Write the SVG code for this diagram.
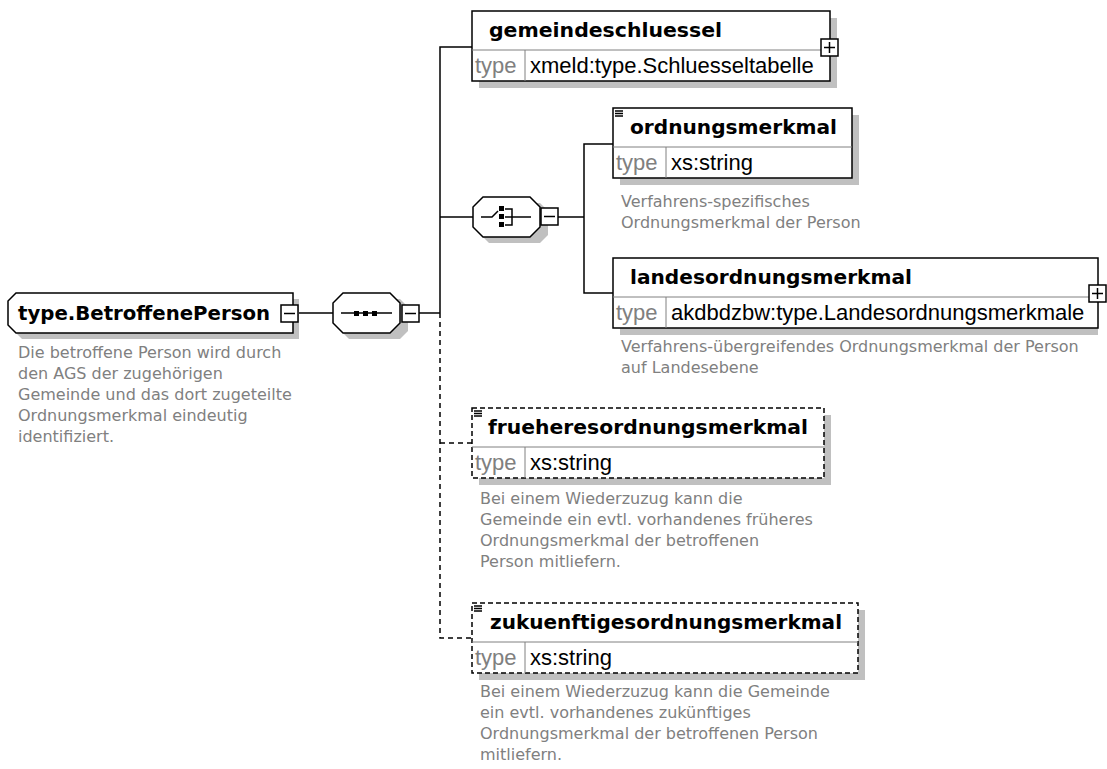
<svg xmlns="http://www.w3.org/2000/svg" width="1107" height="769" viewBox="0 0 1107 769">
<defs>
<style>
.bg{fill:#fff}
.shadow{fill:#c0c0c0}
.box{fill:#fff;stroke:#000;stroke-width:1.5}
.opt{stroke-dasharray:5,3}
.sep{stroke:#808080;stroke-width:1;fill:none}
.conn{stroke:#000;stroke-width:1.5;fill:none}
.dash{stroke-dasharray:5,4}
.title{font-family:"DejaVu Sans",Verdana,sans-serif;font-weight:bold;font-size:20px;fill:#000}
.tlabel{font-family:"Liberation Sans",Arial,sans-serif;font-size:22px;fill:#808080}
.tval{font-family:"Liberation Sans",Arial,sans-serif;font-size:22px;fill:#000}
.desc{font-family:"DejaVu Sans",Verdana,sans-serif;font-size:16px;fill:#808080}
.btn{fill:#fff;stroke:#000;stroke-width:1.5}
.ico{stroke:#000;stroke-width:1.5;fill:none}
</style>
</defs>
<rect class="bg" x="0" y="0" width="1107" height="769"/>

<g id="connectors">
  <line class="conn" x1="298" y1="313" x2="333" y2="313"/>
  <line class="conn" x1="419" y1="313" x2="440" y2="313"/>
  <polyline class="conn" points="472,47 440,47 440,313"/>
  <line class="conn" x1="440" y1="217" x2="473" y2="217"/>
  <polyline class="conn dash" points="440,313 440,638 472,638"/>
  <line class="conn dash" x1="440" y1="443" x2="472" y2="443"/>
  <line class="conn" x1="558" y1="217" x2="584" y2="217"/>
  <polyline class="conn" points="613,144 584,144 584,293 613,293"/>
</g>

<g id="root">
  <path class="shadow" d="M22,299 L299,299 L299,339 L22,339 L14,331 L14,307 Z"/>
  <path class="box" d="M16,293 L293,293 L293,333 L16,333 L8,325 L8,301 Z"/>
  <text class="title" x="18" y="320" textLength="252" lengthAdjust="spacingAndGlyphs">type.BetroffenePerson</text>
  <rect class="btn" x="281" y="305" width="17" height="17"/>
  <line class="ico" x1="284" y1="313.5" x2="295" y2="313.5"/>
  <text class="desc" x="18" y="358">Die betroffene Person wird durch</text>
  <text class="desc" x="18" y="379">den AGS der zugehörigen</text>
  <text class="desc" x="18" y="400">Gemeinde und das dort zugeteilte</text>
  <text class="desc" x="18" y="421">Ordnungsmerkmal eindeutig</text>
  <text class="desc" x="18" y="442">identifiziert.</text>
</g>

<g id="sequence">
  <path class="shadow" d="M349,299 L400,299 L408,307 L408,331 L400,339 L349,339 L341,331 L341,307 Z"/>
  <path class="box" d="M343,293 L390,293 L400,303 L400,323 L390,333 L343,333 L333,323 L333,303 Z"/>
  <line class="ico" x1="341" y1="313" x2="392" y2="313"/>
  <rect x="354" y="311" width="5" height="5" fill="#000"/>
  <rect x="363" y="311" width="5" height="5" fill="#000"/>
  <rect x="372" y="311" width="5" height="5" fill="#000"/>
  <rect class="btn" x="402" y="305" width="17" height="17"/>
  <line class="ico" x1="405" y1="313.5" x2="416" y2="313.5"/>
</g>

<g id="choice">
  <path class="shadow" d="M489,203 L540,203 L548,211 L548,235 L540,243 L489,243 L481,235 L481,211 Z"/>
  <path class="box" d="M483,197 L530,197 L540,207 L540,227 L530,237 L483,237 L473,227 L473,207 Z"/>
  <polyline class="ico" points="481,217 492,217 498,211"/>
  <rect x="499" y="206" width="5" height="5" fill="#000"/>
  <rect x="499" y="214" width="5" height="5" fill="#000"/>
  <rect x="499" y="222" width="5" height="5" fill="#000"/>
  <polyline class="ico" points="505,209 512,209 512,225 505,225"/>
  <line class="ico" x1="505" y1="217" x2="531" y2="217"/>
  <rect class="btn" x="541" y="208" width="17" height="17"/>
  <line class="ico" x1="544" y1="216.5" x2="555" y2="216.5"/>
</g>

<g id="gemeindeschluessel">
  <rect class="shadow" x="479" y="18" width="358" height="70"/>
  <rect class="box" x="472" y="11" width="358" height="70"/>
  <line class="sep" x1="472" y1="50" x2="830" y2="50"/>
  <line class="sep" x1="525" y1="50" x2="525" y2="81"/>
  <text class="tlabel" x="475" y="73">type</text>
  <text class="title" x="489" y="37" textLength="233" lengthAdjust="spacingAndGlyphs">gemeindeschluessel</text>
  <text class="tval" x="530" y="73">xmeld:type.Schluesseltabelle</text>
  <rect class="btn" x="821" y="39" width="17" height="17"/>
  <path class="ico" d="M824,47.5 L835,47.5 M829.5,42 L829.5,53"/>
</g>

<g id="ordnungsmerkmal">
  <rect class="shadow" x="620" y="115" width="239" height="70"/>
  <rect class="box" x="613" y="108" width="239" height="70"/>
  <line class="sep" x1="613" y1="147" x2="852" y2="147"/>
  <line class="sep" x1="666" y1="147" x2="666" y2="178"/>
  <path class="ico" stroke-width="1" d="M615,111 L623,111 M615,113.5 L623,113.5 M615,116 L623,116"/>
  <text class="title" x="630" y="134" textLength="207" lengthAdjust="spacingAndGlyphs">ordnungsmerkmal</text>
  <text class="tlabel" x="616" y="170">type</text>
  <text class="tval" x="671" y="170">xs:string</text>
  <text class="desc" x="621" y="207">Verfahrens-spezifisches</text>
  <text class="desc" x="621" y="228">Ordnungsmerkmal der Person</text>
</g>

<g id="landesordnungsmerkmal">
  <rect class="shadow" x="620" y="265" width="478" height="70"/>
  <rect class="box" x="613" y="258" width="485" height="70"/>
  <line class="sep" x1="613" y1="297" x2="1098" y2="297"/>
  <line class="sep" x1="666" y1="297" x2="666" y2="328"/>
  <text class="title" x="630" y="284" textLength="282" lengthAdjust="spacingAndGlyphs">landesordnungsmerkmal</text>
  <text class="tlabel" x="616" y="320">type</text>
  <text class="tval" x="671" y="320">akdbdzbw:type.Landesordnungsmerkmale</text>
  <rect class="btn" x="1089" y="285" width="17" height="17"/>
  <path class="ico" d="M1092,293.5 L1103,293.5 M1097.5,288 L1097.5,299"/>
  <text class="desc" x="621" y="352">Verfahrens-übergreifendes Ordnungsmerkmal der Person</text>
  <text class="desc" x="621" y="373">auf Landesebene</text>
</g>

<g id="frueheresordnungsmerkmal">
  <rect class="shadow" x="479" y="415" width="352" height="70"/>
  <rect class="box opt" x="472" y="408" width="352" height="70"/>
  <line class="sep" x1="472" y1="447" x2="824" y2="447"/>
  <line class="sep" x1="525" y1="447" x2="525" y2="478"/>
  <path class="ico" stroke-width="1" d="M474,411 L482,411 M474,413.5 L482,413.5 M474,416 L482,416"/>
  <text class="title" x="488" y="434" textLength="320" lengthAdjust="spacingAndGlyphs">frueheresordnungsmerkmal</text>
  <text class="tlabel" x="475" y="470">type</text>
  <text class="tval" x="530" y="470">xs:string</text>
  <text class="desc" x="480" y="504">Bei einem Wiederzuzug kann die</text>
  <text class="desc" x="480" y="525">Gemeinde ein evtl. vorhandenes früheres</text>
  <text class="desc" x="480" y="546">Ordnungsmerkmal der betroffenen</text>
  <text class="desc" x="480" y="567">Person mitliefern.</text>
</g>

<g id="zukuenftigesordnungsmerkmal">
  <rect class="shadow" x="479" y="610" width="386" height="70"/>
  <rect class="box opt" x="472" y="603" width="386" height="70"/>
  <line class="sep" x1="472" y1="642" x2="858" y2="642"/>
  <line class="sep" x1="525" y1="642" x2="525" y2="673"/>
  <path class="ico" stroke-width="1" d="M474,606 L482,606 M474,608.5 L482,608.5 M474,611 L482,611"/>
  <text class="title" x="490" y="629" textLength="352" lengthAdjust="spacingAndGlyphs">zukuenftigesordnungsmerkmal</text>
  <text class="tlabel" x="475" y="665">type</text>
  <text class="tval" x="530" y="665">xs:string</text>
  <text class="desc" x="480" y="697">Bei einem Wiederzuzug kann die Gemeinde</text>
  <text class="desc" x="480" y="718">ein evtl. vorhandenes zukünftiges</text>
  <text class="desc" x="480" y="739">Ordnungsmerkmal der betroffenen Person</text>
  <text class="desc" x="480" y="760">mitliefern.</text>
</g>
</svg>
